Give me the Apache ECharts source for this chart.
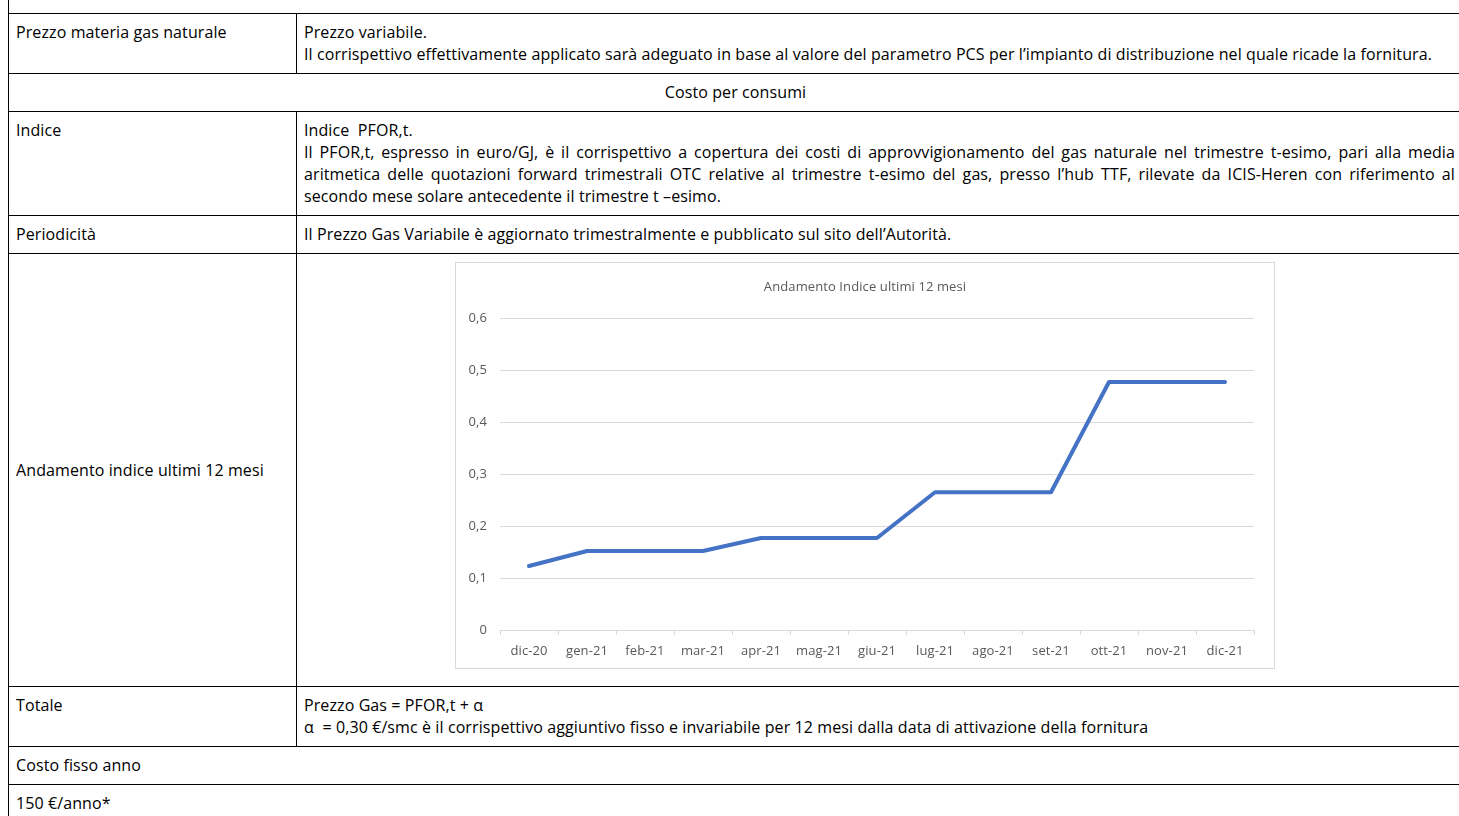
<!DOCTYPE html>
<html>
<head>
<meta charset="utf-8">
<script src="https://cdn.jsdelivr.net/npm/echarts@6/dist/echarts.min.js"></script>
<style>
  html, body {
    margin: 0;
    padding: 0;
    background: #fff;
    overflow: hidden;
    width: 1459px;
    height: 816px;
  }
  .doc {
    position: absolute;
    left: 8px;
    top: -25px;
    width: 1456px;
    border-collapse: collapse;
    font-family: "Open Sans", Lato, sans-serif;
    font-size: 16px;
    letter-spacing: 0.1px;
    line-height: 22px;
    color: #000;
  }
  .doc td {
    border: 1px solid #000;
    padding: 7px 8px 8px 7px;
    vertical-align: top;
    white-space: nowrap;
  }
  .doc td.left {
    width: 272px;
  }
  .doc .center {
    text-align: center;
  }
  .doc .mid {
    vertical-align: middle;
  }
  .just {
    text-align: justify;
    text-align-last: justify;
    white-space: normal;
  }
  .chartBox {
    margin-top: 1px;
    margin-left: 151px;
    margin-bottom: 9px;
    width: 818px;
    height: 405px;
    border: 1px solid #d9d9d9;
  }
  #charts {
    width: 818px;
    height: 405px;
  }
</style>
</head>
<body>
<table class="doc">
  <tr><td colspan="2" class="center"><b>CONDIZIONI ECONOMICHE</b></td></tr>
  <tr>
    <td class="left">Prezzo materia gas naturale</td>
    <td>Prezzo variabile.<br>Il corrispettivo effettivamente applicato sarà adeguato in base al valore del parametro PCS per l’impianto di distribuzione nel quale ricade la fornitura.</td>
  </tr>
  <tr><td colspan="2" class="center">Costo per consumi</td></tr>
  <tr>
    <td class="left">Indice</td>
    <td>Indice&nbsp; PFOR,t.
      <div class="just">Il PFOR,t, espresso in euro/GJ, è il corrispettivo a copertura dei costi di approvvigionamento del gas naturale nel trimestre t-esimo, pari alla media</div>
      <div class="just">aritmetica delle quotazioni forward trimestrali OTC relative al trimestre t-esimo del gas, presso l’hub TTF, rilevate da ICIS-Heren con riferimento al</div>
      <div>secondo mese solare antecedente il trimestre t –esimo.</div></td>
  </tr>
  <tr>
    <td class="left">Periodicità</td>
    <td>Il Prezzo Gas Variabile è aggiornato trimestralmente e pubblicato sul sito dell’Autorità.</td>
  </tr>
  <tr>
    <td class="left mid">Andamento indice ultimi 12 mesi</td>
    <td><div class="chartBox"><div id="charts"></div></div></td>
  </tr>
  <tr>
    <td class="left">Totale</td>
    <td>Prezzo Gas = PFOR,t + α<br>α&nbsp; = 0,30 €/smc è il corrispettivo aggiuntivo fisso e invariabile per 12 mesi dalla data di attivazione della fornitura</td>
  </tr>
  <tr><td colspan="2">Costo fisso anno</td></tr>
  <tr><td colspan="2">150 €/anno*</td></tr>
</table>

<script>
// mesi sull'asse X
const mesi = ['dic-20', 'gen-21', 'feb-21', 'mar-21', 'apr-21', 'mag-21', 'giu-21',
              'lug-21', 'ago-21', 'set-21', 'ott-21', 'nov-21', 'dic-21']
// valori indice PFOR,t
const indice = [0.123, 0.152, 0.152, 0.152, 0.177, 0.177, 0.177,
                0.265, 0.265, 0.265, 0.477, 0.477, 0.477]
// etichette asse Y
const yMin = 0
const yMax = 0.6
const yStep = 0.1

const grigio = '#595959'
const linee = '#d9d9d9'

let mycharts = echarts.init(document.getElementById('charts'))
mycharts.setOption({
  animation: false,
  textStyle: { fontFamily: '"Open Sans", Lato, sans-serif' },
  //titolo
  title: {
    text: 'Andamento Indice ultimi 12 mesi',
    left: 'center',
    top: 13,
    textStyle: { color: grigio, fontSize: 13, fontWeight: 'normal' }
  },
  grid: {
    left: 44,
    right: 20,
    top: 55,
    bottom: 38
  },
  xAxis: {
    type: 'category',
    data: mesi,
    axisLine: { lineStyle: { color: linee } },
    axisTick: { show: true, length: 5, lineStyle: { color: linee } },
    axisLabel: { color: grigio, fontSize: 13, margin: 15, interval: 0 },
    splitLine: { show: false }
  },
  yAxis: {
    type: 'value',
    min: yMin,
    max: yMax,
    interval: yStep,
    axisLine: { show: false },
    axisTick: { show: false },
    axisLabel: {
      color: grigio,
      fontSize: 13,
      margin: 13,
      formatter: v => v === 0 ? '0' : v.toFixed(1).replace('.', ',')
    },
    splitLine: { lineStyle: { color: linee, width: 1 } }
  },
  series: [
    {
      type: 'line',
      data: indice,
      showSymbol: false,
      lineStyle: { color: '#4472C4', width: 4, cap: 'round', join: 'round' },
      itemStyle: { color: '#4472C4' }
    }
  ]
})
</script>
</body>
</html>
